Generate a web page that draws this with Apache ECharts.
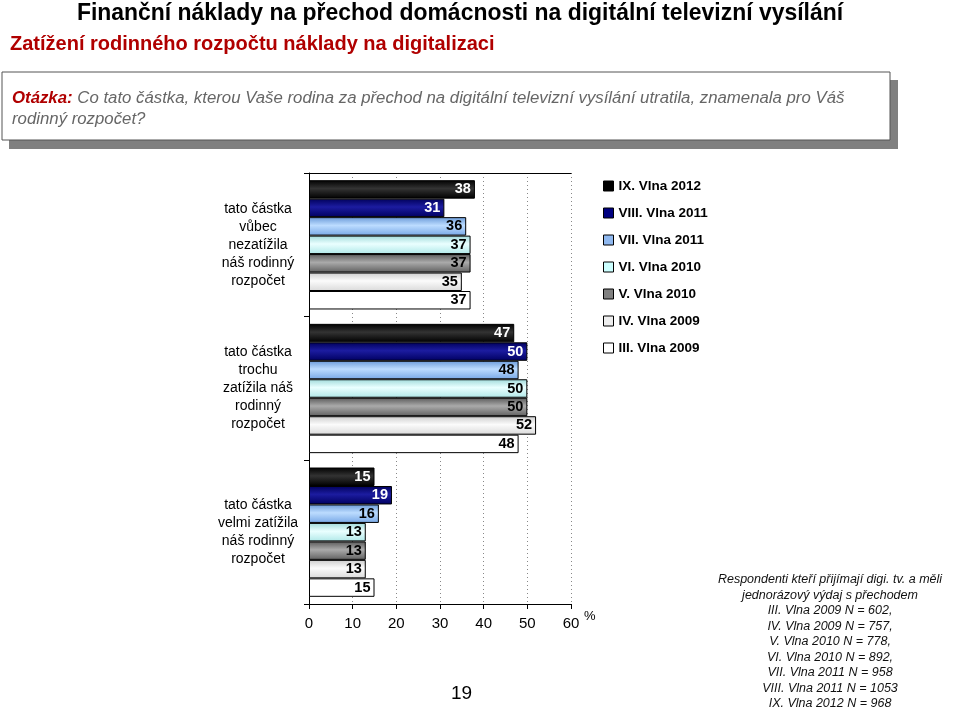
<!DOCTYPE html>
<html><head><meta charset="utf-8">
<script src="https://cdn.jsdelivr.net/npm/echarts@6/dist/echarts.min.js"></script>
<style>html,body{margin:0;padding:0;background:#fff}#c{width:960px;height:708px}</style>
</head><body><div id="c"></div>
<script>
const categories = [
  'tato částka\nvůbec\nnezatížila\nnáš rodinný\nrozpočet',
  'tato částka\ntrochu\nzatížila náš\nrodinný\nrozpočet',
  'tato částka\nvelmi zatížila\nnáš rodinný\nrozpočet'
];
const seriesNames = ['IX. Vlna 2012','VIII. Vlna 2011','VII. Vlna 2011','VI. Vlna 2010','V. Vlna 2010','IV. Vlna 2009','III. Vlna 2009'];
const vIX   = [38, 47, 15];
const vVIII = [31, 50, 19];
const vVII  = [36, 48, 16];
const vVI   = [37, 50, 13];
const vV    = [37, 50, 13];
const vIV   = [35, 52, 13];
const vIII  = [37, 48, 15];
const xTicks = [0, 10, 20, 30, 40, 50, 60];
const seriesValues = [vIX, vVIII, vVII, vVI, vV, vIV, vIII];

const grads = [
  ['#000000','#333333','#000000'],
  ['#00005a','#1c1ca0','#000060'],
  ['#6a9ad8','#bcdcff','#78a8e6'],
  ['#a0dada','#eaffff','#b0e8e8'],
  ['#5a5a5a','#aaaaaa','#606060'],
  ['#cccccc','#fbfbfb','#dadada'],
  ['#ffffff','#ffffff','#ffffff']
];
const legendColors = ['#000000','#000080','#8fb8ef','#ccffff','#808080','#eeeeee','#ffffff'];
const labelColors = ['#ffffff','#ffffff','#000','#000','#000','#000','#000'];

function grad(c){
  return new echarts.graphic.LinearGradient(0,0,0,1,[
    {offset:0,color:c[0]},{offset:0.45,color:c[1]},{offset:1,color:c[2]}]);
}

const chart = echarts.init(document.getElementById('c'), null, {renderer:'canvas'});
const FONT = 'Liberation Sans, Arial, sans-serif';

const series = seriesNames.map((n,i)=>({
  name:n, type:'bar', data: seriesValues[i], xAxisIndex:0, yAxisIndex:0,
  barGap:'0%', barCategoryGap:'10%',
  itemStyle:{color: grad(grads[i]), borderColor:'#000', borderWidth:1},
  label:{show:true, position:'insideRight', distance:4, color: labelColors[i],
         fontFamily:FONT, fontWeight:'bold', fontSize:14.5},
  emphasis:{disabled:true}, animation:false
}));

chart.setOption({
  animation:false,
  textStyle:{fontFamily:FONT},
  grid:{left:309, right:389, top:173, bottom:104, containLabel:false},
  legend:{
    orient:'vertical', left:598, top:173, itemWidth:10, itemHeight:10, itemGap:11,
    data: seriesNames.map((n,i)=>({name:n, itemStyle:{color:legendColors[i], borderColor:'#000', borderWidth:1}})),
    textStyle:{fontFamily:FONT, fontWeight:'bold', fontSize:13.5, color:'#000', lineHeight:16},
    icon:'rect', selectedMode:false
  },
  xAxis:[{
    type:'value', min:0, max:60, interval:10, position:'bottom',
    axisLine:{show:true, lineStyle:{color:'#000', width:1}},
    axisTick:{show:true, length:5, lineStyle:{color:'#000'}},
    axisLabel:{fontSize:15, color:'#000', margin:12, fontFamily:FONT,
      formatter:v=> xTicks.includes(v)? String(v):''},
    splitLine:{show:true, lineStyle:{color:'#888', type:[1,3], width:1}}
  },{
    type:'value', min:0, max:60, position:'top',
    axisLine:{show:true, lineStyle:{color:'#000', width:1}},
    axisTick:{show:false}, axisLabel:{show:false}, splitLine:{show:false}
  }],
  yAxis:[{
    type:'category', data:categories, inverse:true,
    axisLine:{show:true, lineStyle:{color:'#000'}},
    axisTick:{show:true, length:5, lineStyle:{color:'#000'}},
    axisLabel:{fontSize:14, color:'#000', align:'center', margin:51, lineHeight:18, fontFamily:FONT}
  }],
  series: series,
  graphic:[
    {type:'text', x:460, y:1, scaleX:0.956, style:{text:'Finanční náklady na přechod domácnosti na digitální televizní vysílání',
      font:'bold 24px '+FONT, fill:'#000', align:'center'}},
    {type:'text', left:10, top:34, style:{text:'Zatížení rodinného rozpočtu náklady na digitalizaci',
      font:'bold 20px '+FONT, fill:'#b00000'}},
    {type:'rect', shape:{x:9, y:80, width:889, height:69}, style:{fill:'#808080'}},
    {type:'rect', shape:{x:2, y:72, width:888, height:68}, style:{fill:'#fff', stroke:'#555', lineWidth:1}},
    {type:'text', left:12, top:88, style:{
      text:'{r|Otázka:} Co tato částka, kterou Vaše rodina za přechod na digitální televizní vysílání utratila, znamenala pro Váš\nrodinný rozpočet?',
      font:'italic 16.8px '+FONT, fill:'#666', lineHeight:21,
      rich:{r:{font:'italic bold 16.8px '+FONT, fill:'#b00000'}}}},
    {type:'text', left:584, top:610, style:{text:'%', font:'13px '+FONT, fill:'#000'}},
    {type:'text', left:451, top:684, style:{text:'19', font:'19px '+FONT, fill:'#000'}},
    {type:'text', x:830, y:572, style:{
      text:'Respondenti kteří přijímají digi. tv. a měli\njednorázový výdaj s přechodem\nIII. Vlna 2009 N = 602,\nIV. Vlna 2009 N = 757,\nV. Vlna 2010 N = 778,\nVI. Vlna 2010 N = 892,\nVII. Vlna 2011 N = 958\nVIII. Vlna 2011 N = 1053\nIX. Vlna 2012 N = 968',
      font:'italic 12.5px '+FONT, fill:'#111', align:'center', lineHeight:15.5}}
  ]
});
</script></body></html>
